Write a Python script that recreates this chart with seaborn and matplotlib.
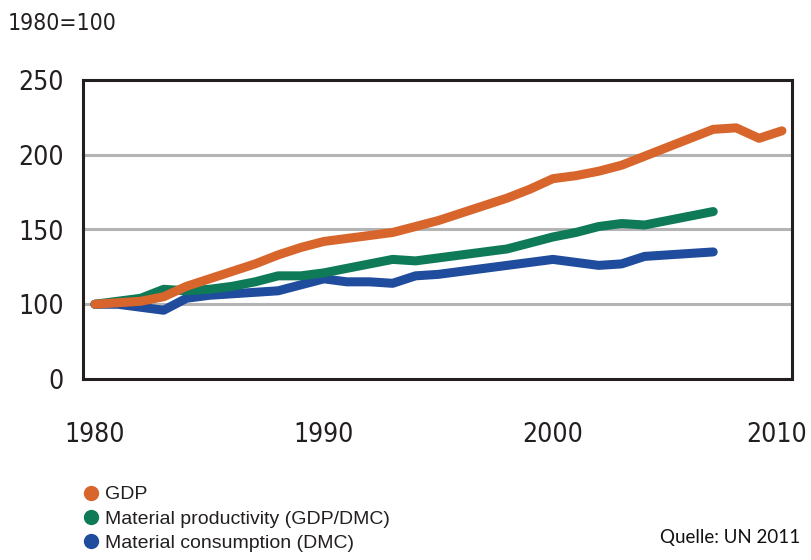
import matplotlib
matplotlib.use("Agg")
import matplotlib.pyplot as plt
from matplotlib.lines import Line2D
from matplotlib import font_manager
from matplotlib.transforms import ScaledTranslation
import seaborn as sns
import pandas as pd

years = list(range(1980, 2011))
gdp = [100, 101, 102, 105, 112, 117, 122, 127, 133, 138, 142, 144, 146, 148, 152,
       156, 161, 166, 171, 177, 184, 186, 189, 193, 199, 205, 211, 217, 218, 211, 216]
productivity_years = list(range(1980, 2008))
productivity = [100, 102, 104, 110, 109, 110, 112, 115, 119, 119, 121, 124, 127, 130,
                129, 131, 133, 135, 137, 141, 145, 148, 152, 154, 153, 156, 159, 162]
consumption = [100, 100, 98, 96, 104, 106, 107, 108, 109, 113, 117, 115, 115, 114,
               119, 120, 122, 124, 126, 128, 130, 128, 126, 127, 132, 133, 134, 135]

series_names = ["GDP", "Material productivity (GDP/DMC)", "Material consumption (DMC)"]
colors = ["#D8652B", "#0E7A58", "#1F4C9C"]

x_ticks = [1980, 1990, 2000, 2010]
# the value axis is broken: "0" sits one step below 100
y_tick_pos = [50, 100, 150, 200, 250]
y_tick_labels = ["0", "100", "150", "200", "250"]

df = pd.concat([
    pd.DataFrame({"year": years, "value": gdp, "series": series_names[0]}),
    pd.DataFrame({"year": productivity_years, "value": productivity, "series": series_names[1]}),
    pd.DataFrame({"year": productivity_years, "value": consumption, "series": series_names[2]}),
])

sns.set_style("white")
plt.rcParams["font.family"] = ["Liberation Sans", "DejaVu Sans"]
ink = "#231F20"

# narrow face for the numerals
narrow = font_manager.FontProperties(family="DejaVu Sans", stretch="condensed", size=19)

fig = plt.figure(figsize=(8.11, 5.6), dpi=100)
ax = fig.add_axes([83 / 811, 1 - 379 / 560, (792 - 83) / 811, (379 - 80) / 560])

for y in [100, 150, 200]:
    ax.axhline(y, color="#B4B4B4", lw=2.2, zorder=1)

# plot in reverse so GDP ends up on top
sns.lineplot(data=df, x="year", y="value", hue="series",
             hue_order=series_names[::-1], palette=colors[::-1],
             lw=6.5, legend=False, ax=ax, zorder=3)
for ln in ax.get_lines()[3:]:
    ln.set_solid_capstyle("round")
    ln.set_solid_joinstyle("round")

ax.set_xlim(1979.48, 2010.44)
ax.set_ylim(50, 250)
ax.set_xticks(x_ticks)
ax.set_xticklabels([str(t) for t in x_ticks], fontproperties=narrow)
ax.set_yticks(y_tick_pos)
ax.set_yticklabels(y_tick_labels, fontproperties=narrow)
ax.tick_params(axis="both", length=0, colors=ink)
ax.tick_params(axis="y", pad=14)
ax.tick_params(axis="x", pad=31)
ax.set_xlabel("")
ax.set_ylabel("")
for s in ax.spines.values():
    s.set_visible(True)
    s.set_color(ink)
    s.set_linewidth(2.2)

# keep the last year label inside the canvas
last = ax.get_xticklabels()[-1]
last.set_transform(last.get_transform() + ScaledTranslation(-4 / 72, 0, fig.dpi_scale_trans))

fig.text(8 / 811, 1 - 24 / 560, "1980=100", color=ink, va="center", ha="left",
         fontproperties=font_manager.FontProperties(family="DejaVu Sans", stretch="condensed", size=16.5))

handles = [Line2D([], [], marker="o", linestyle="", color=c, markersize=10) for c in colors]
fig.legend(handles, series_names, loc="upper left",
           bbox_to_anchor=(72 / 811, 1 - 478 / 560), frameon=False,
           prop={"family": ["Liberation Sans", "DejaVu Sans"], "size": 14},
           labelcolor=ink, handletextpad=0.1, labelspacing=0.35, borderaxespad=0,
           handlelength=1.2)

fig.text(800 / 811, 1 - 537 / 560, "Quelle: UN 2011", fontsize=13.5, color="#111111",
         ha="right", va="center", family=["Lato", "DejaVu Sans"])

fig.savefig("out.png", dpi=100, facecolor="white")
